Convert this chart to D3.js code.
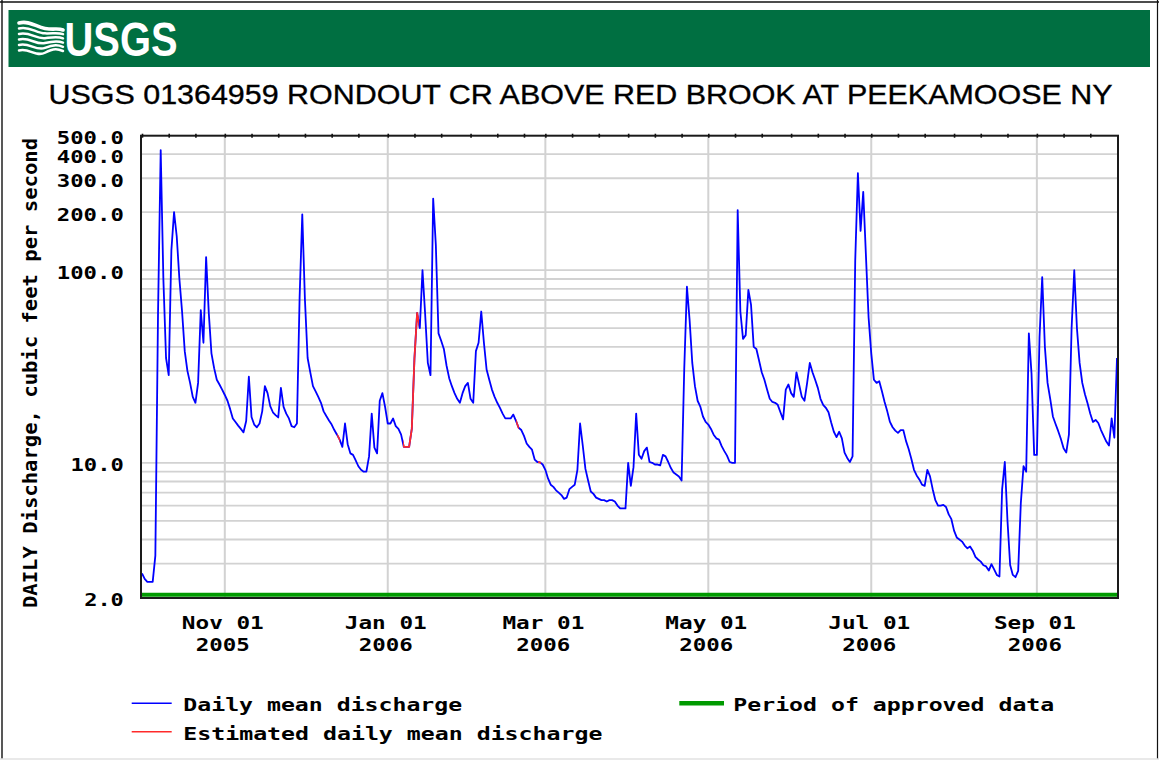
<!DOCTYPE html>
<html>
<head>
<meta charset="utf-8">
<script src="https://cdn.jsdelivr.net/npm/d3@7"></script>
<style>
  html, body { margin: 0; padding: 0; background: #ffffff; }
  svg { display: block; }
  .mono { font-family: "DejaVu Sans Mono", "Liberation Mono", monospace; font-weight: bold; fill: #000; }
</style>
</head>
<body>
<svg id="chart" width="1159" height="761"></svg>
<script>
// Daily mean discharge (cubic feet per second), one value per day, water year 2006
const oct2005 = [2.67, 2.5, 2.41, 2.41, 2.41, 3.3, 60, 420, 90, 35, 28.5, 127, 200, 150, 90, 61, 38, 30, 26, 22, 20.5, 26, 62, 42, 117, 60, 37, 31, 27, 25.5, 24];
const nov2005 = [22.5, 21, 19, 17, 16.3, 15.6, 15, 14.4, 16.5, 28, 17.3, 15.8, 15.3, 16, 18.5, 25, 23, 19.7, 18.3, 17.7, 17.2, 24.5, 19.5, 18, 17, 15.5, 15.3, 16, 72, 195];
const dec2005 = [70, 35, 29.5, 25, 23.5, 22, 20.5, 18.5, 17.5, 16.6, 15.8, 14.8, 14, 13.2, 12.1, 16, 12.5, 11.2, 11, 10.3, 9.6, 9.2, 9.0, 9.0, 10.8, 18, 12, 11.2, 21, 23, 19.5];
const jan2006 = [16, 16, 17, 15.5, 15, 14, 12.1, 12.1, 12.1, 15, 35, 60, 50, 100, 59, 33, 28.5, 235, 135, 47, 43, 39, 32, 27.5, 25, 23, 21.5, 20.5, 23, 25, 26];
const feb2006 = [21.5, 20.5, 38, 42, 61, 42, 30.5, 27, 24, 22, 20.5, 19.3, 18, 17, 17, 17, 17.8, 16.5, 15.2, 14.8, 13.8, 12.6, 12.1, 11.7, 10.4, 10.1, 10.05, 9.8];
const mar2006 = [9.2, 8.3, 7.7, 7.5, 7.2, 7.0, 6.8, 6.5, 6.6, 7.3, 7.5, 7.7, 9.2, 16, 12.3, 9.3, 8.1, 7.1, 6.9, 6.6, 6.5, 6.4, 6.4, 6.3, 6.4, 6.4, 6.3, 6.0, 5.8, 5.8, 5.8];
const apr2006 = [10, 7.6, 9.5, 18, 11, 10.5, 11.5, 12, 10.1, 10, 9.8, 9.8, 9.7, 11, 10.8, 10.1, 9.4, 8.9, 8.7, 8.5, 8.1, 31, 82, 55, 33, 25, 21, 19.6, 17.4, 16.3];
const may2006 = [15.8, 15, 14, 13.4, 13.2, 12.2, 11.5, 10.9, 10.1, 10, 10, 205, 61, 44, 46, 79, 66, 40, 39, 34, 29.5, 27, 24, 21.5, 20.7, 20.5, 20, 18.3, 16.8, 24, 25.5];
const jun2006 = [23, 22, 29.5, 25.5, 22, 21, 26, 33, 29.5, 27, 24.5, 21.5, 20, 19.3, 18.3, 16.2, 14.5, 13.6, 14.5, 13.4, 11.3, 10.6, 10.1, 10.8, 112, 319, 160, 255, 120, 57];
const jul2006 = [37, 27, 26, 26.5, 23.5, 20.7, 18.5, 16.3, 15.3, 14.7, 14.3, 14.8, 14.8, 13, 11.8, 10.5, 9.2, 8.6, 8.2, 7.7, 7.6, 9.2, 8.5, 7.3, 6.4, 6.0, 6.0, 6.05, 5.9, 5.4, 5.1];
const aug2006 = [4.45, 4.1, 4.0, 3.9, 3.72, 3.6, 3.68, 3.5, 3.25, 3.15, 3.07, 2.94, 2.9, 2.76, 2.98, 2.8, 2.62, 2.57, 7.3, 10.1, 5, 2.95, 2.62, 2.55, 2.75, 6.2, 9.6, 9, 47, 29, 11];
const sep2006 = [11, 45, 92, 40, 26, 21.5, 17.4, 15.9, 14.6, 13.3, 11.9, 11.3, 14, 50, 100, 50, 33, 26, 22.7, 20.3, 18, 16.3, 16.7, 16.1, 14.8, 13.8, 12.9, 12.3, 17, 13.5];
const oct2006 = [35];

const firstDay = "2005-10-01";

// Time spans where the daily values are estimated (drawn in red)
const estimatedSpans = [
  ["2005-12-13T02:00", "2005-12-14T02:00"],
  ["2006-01-06T17:00", "2006-01-12T17:00"],
  ["2006-02-18T02:00", "2006-02-19T02:00"],
  ["2006-02-26T07:00", "2006-02-27T07:00"]
];
// Span covered by approved data (green bar along the bottom)
const approvedSpan = ["2005-10-01", "2006-10-01"];

const xDomain = ["2005-10-01", "2006-10-01"];
const yDomain = [2, 500];
const yLabelValues = [2, 10, 100, 200, 300, 400, 500];
const yGridValues = [3, 4, 5, 6, 7, 8, 9, 10, 20, 30, 40, 50, 60, 70, 80, 90, 100, 200, 300, 400];
const xLabelDates = ["2005-11-01", "2006-01-01", "2006-03-01", "2006-05-01", "2006-07-01", "2006-09-01"];
const topTickDaysOfMonth = [1, 11, 21];

const titleText = "USGS 01364959 RONDOUT CR ABOVE RED BROOK AT PEEKAMOOSE NY";
const yTitleText = "DAILY Discharge, cubic feet per second";
const legendNames = ["Daily mean discharge", "Estimated daily mean discharge", "Period of approved data"];
const legendColors = ["#0000ff", "#ff2a2a", "#009a00"];

// ---------------------------------------------------------------
const parse = s => new Date(s + (s.length === 10 ? "T00:00:00Z" : ":00Z"));
const dailyValues = [].concat(oct2005, nov2005, dec2005, jan2006, feb2006, mar2006,
                              apr2006, may2006, jun2006, jul2006, aug2006, sep2006, oct2006);
const start = parse(firstDay);
const series = dailyValues.map((v, i) => ({ date: d3.utcDay.offset(start, i), value: v }));

const plot = { left: 141, right: 1118, top: 135.7, bottom: 598 };

const x = d3.scaleUtc().domain(xDomain.map(parse)).range([142, 1117]);
const y = d3.scaleLog().domain(yDomain).range([597.5, 135.5]);

const svg = d3.select("#chart");

// Outer frame of the graphic
svg.append("line").attr("x1", 0).attr("x2", 1159).attr("y1", 2).attr("y2", 2)
  .attr("stroke", "#111").attr("stroke-width", 1.4);
svg.append("line").attr("x1", 2).attr("x2", 2).attr("y1", 0).attr("y2", 759)
  .attr("stroke", "#111").attr("stroke-width", 1.4);
svg.append("line").attr("x1", 1157.5).attr("x2", 1157.5).attr("y1", 0).attr("y2", 759)
  .attr("stroke", "#111").attr("stroke-width", 1.2);
svg.append("line").attr("x1", 0).attr("x2", 1159).attr("y1", 759).attr("y2", 759)
  .attr("stroke", "#e2e2e2").attr("stroke-width", 1.5);

// Header banner with USGS mark
const header = svg.append("g");
header.append("rect").attr("x", 8.5).attr("y", 10).attr("width", 1141.5).attr("height", 57)
  .attr("fill", "#006f41");
const waves = header.append("g").attr("fill", "none").attr("stroke", "#ffffff")
  .attr("stroke-linecap", "round");
const waveStarts = [23, 28.5, 34, 39.5, 45, 50.5];
waveStarts.forEach((y0, i) => {
  const y1 = 30 + i * 4.2;
  waves.append("path")
    .attr("d", `M19,${y0} C29,${y0 - 3} 36,${y0 + 4 + i * 0.6} 45,${(y0 + y1) / 2 + 2} S58,${y1 - 2} 63,${y1}`)
    .attr("stroke-width", i === 0 ? 3.6 : 2.5);
});
header.append("text")
  .attr("x", 64.5).attr("y", 55.5)
  .attr("font-family", "'Liberation Sans Narrow', 'Arial Narrow', 'Liberation Sans', Arial, sans-serif")
  .attr("font-weight", "bold").attr("font-size", 48.5)
  .attr("fill", "#ffffff")
  .attr("textLength", 113).attr("lengthAdjust", "spacingAndGlyphs")
  .text("USGS");

// Title
svg.append("text")
  .attr("x", 48.5).attr("y", 103.5)
  .attr("font-family", "'Liberation Sans', Arial, Helvetica, sans-serif")
  .attr("font-size", 28).attr("fill", "#000")
  .attr("stroke", "#000").attr("stroke-width", 0.35)
  .attr("textLength", 1064).attr("lengthAdjust", "spacingAndGlyphs")
  .text(titleText);

// Grid
const grid = svg.append("g").attr("stroke", "#d2d2d2").attr("fill", "none");
grid.selectAll("line.h").data(yGridValues).join("line")
  .attr("class", "h")
  .attr("x1", plot.left).attr("x2", plot.right)
  .attr("y1", d => y(d)).attr("y2", d => y(d))
  .attr("stroke-width", 1.8);
grid.selectAll("line.v").data(xLabelDates.map(parse)).join("line")
  .attr("class", "v")
  .attr("x1", d => x(d)).attr("x2", d => x(d))
  .attr("y1", plot.top).attr("y2", plot.bottom)
  .attr("stroke-width", 2);

// Clip for data marks
const defs = svg.append("defs");
defs.append("clipPath").attr("id", "plot-clip").append("rect")
  .attr("x", plot.left).attr("y", plot.top)
  .attr("width", plot.right - plot.left).attr("height", plot.bottom - plot.top);
estimatedSpans.forEach((s, i) => {
  const a = x(parse(s[0])), b = x(parse(s[1]));
  defs.append("clipPath").attr("id", "est-clip-" + i).append("rect")
    .attr("x", a).attr("y", plot.top).attr("width", b - a).attr("height", plot.bottom - plot.top);
});

// Approved-data bar along the bottom of the plot
svg.append("line")
  .attr("x1", x(parse(approvedSpan[0])) - 1).attr("x2", x(parse(approvedSpan[1])) + 1)
  .attr("y1", 594.7).attr("y2", 594.7)
  .attr("stroke", legendColors[2]).attr("stroke-width", 4);

// Discharge line
const line = d3.line().x(d => x(d.date)).y(d => y(d.value));
const marks = svg.append("g").attr("clip-path", "url(#plot-clip)");
marks.append("path").datum(series)
  .attr("d", line).attr("fill", "none")
  .attr("stroke", legendColors[0]).attr("stroke-width", 1.8)
  .attr("stroke-linejoin", "round");
estimatedSpans.forEach((s, i) => {
  marks.append("g").attr("clip-path", `url(#est-clip-${i})`)
    .append("path").datum(series)
    .attr("d", line).attr("fill", "none")
    .attr("stroke", legendColors[1]).attr("stroke-width", 1.8)
    .attr("stroke-linejoin", "round");
});

// Plot frame
svg.append("rect")
  .attr("x", plot.left).attr("y", plot.top)
  .attr("width", plot.right - plot.left).attr("height", plot.bottom - plot.top)
  .attr("fill", "none").attr("stroke", "#1a1a1a").attr("stroke-width", 2);

// Small ticks along the top edge on the 1st, 11th and 21st of each month
const topTicks = d3.utcDay.range(x.domain()[0], x.domain()[1])
  .filter(d => topTickDaysOfMonth.includes(d.getUTCDate()));
svg.append("g")
  .attr("transform", `translate(0,${plot.top + 2})`)
  .call(d3.axisTop(x).tickValues(topTicks).tickFormat("").tickSize(4).tickSizeOuter(0))
  .call(g => g.select(".domain").remove())
  .call(g => g.selectAll(".tick line").attr("stroke", "#111").attr("stroke-width", 1.6));

// Monospaced labels stretched to the bitmap-font advance
function monoText(parent, str, xPos, baseline, advance, anchor, size) {
  const len = str.length * advance - 1.5;
  const x0 = anchor === "end" ? xPos - len : anchor === "middle" ? xPos - len / 2 : xPos;
  return parent.append("text").attr("class", "mono")
    .attr("x", x0).attr("y", baseline)
    .attr("font-size", size || 18.5)
    .attr("textLength", len).attr("lengthAdjust", "spacingAndGlyphs")
    .text(str);
}

// Y axis labels
const yFmt = d3.format(".1f");
const yLab = svg.append("g");
yLabelValues.forEach(v => monoText(yLab, yFmt(v), 123.8, y(v) + 8.6, 13.7, "end"));

// X axis labels (two lines)
const fmtMonth = d3.utcFormat("%b %d");
const fmtYear = d3.utcFormat("%Y");
const xLab = svg.append("g");
xLabelDates.map(parse).forEach(d => {
  monoText(xLab, fmtMonth(d), x(d) - 2, 628.6, 13.9, "middle");
  monoText(xLab, fmtYear(d), x(d) - 2, 651.2, 13.9, "middle");
});

// Y axis title
svg.append("g").attr("transform", "translate(37,608) rotate(-90)")
  .append("text").attr("class", "mono")
  .attr("x", 0).attr("y", 0).attr("font-size", 20)
  .attr("textLength", 470).attr("lengthAdjust", "spacingAndGlyphs")
  .text(yTitleText);

// Legend
const legend = svg.append("g");
const legendRows = [
  { name: legendNames[0], color: legendColors[0], x1: 131.7, x2: 171.7, ly: 703.3, w: 1.6, tx: 183.3, base: 711.2 },
  { name: legendNames[1], color: legendColors[1], x1: 131.7, x2: 171.7, ly: 731.7, w: 1.6, tx: 183.3, base: 739.5 },
  { name: legendNames[2], color: legendColors[2], x1: 679.3, x2: 724, ly: 703.3, w: 4.5, tx: 733.3, base: 711.2 }
];
legendRows.forEach(r => {
  legend.append("line").attr("x1", r.x1).attr("x2", r.x2).attr("y1", r.ly).attr("y2", r.ly)
    .attr("stroke", r.color).attr("stroke-width", r.w);
  monoText(legend, r.name, r.tx, r.base, 14.02, "start");
});
</script>
</body>
</html>
